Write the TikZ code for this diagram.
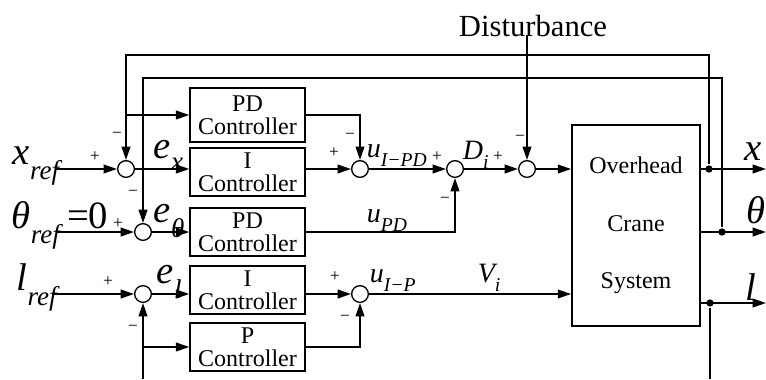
\documentclass[tikz,border=0pt]{standalone}
\usepackage{fontspec}
\setmainfont{Liberation Serif}
\usetikzlibrary{arrows.meta,positioning,calc}
\newcommand{\sbs}[1]{\raisebox{-0.45ex}{\textsubscript{#1}}}

\begin{document}
\begin{tikzpicture}[x=0.75pt,y=-0.75pt,line width=1.3pt,
	>={Triangle[length=10pt,width=6.5pt]},
	ctrl/.style={draw,minimum width=86pt,minimum height=36pt,inner sep=0pt,align=center,font=\fontsize{18}{17}\selectfont},
	sumj/.style={circle,draw,line width=1pt,fill=white,minimum size=12.5pt,inner sep=0pt},
	sig/.style={font=\fontsize{13}{13}\selectfont,inner sep=0pt},
	lab/.style={font=\fontsize{29}{29}\selectfont\itshape,inner sep=0pt,anchor=base west},
	sml/.style={font=\fontsize{21}{21}\selectfont\itshape,inner sep=0pt,anchor=base west},
	dot/.style={circle,fill,inner sep=0pt,minimum size=5.5pt}]
	\useasboundingbox (0,0) rectangle (766,379);

	% controllers and plant
	\node[ctrl,minimum height=40pt] (pdx) at (247.5,115) {PD\\Controller};
	\node[ctrl] (ix) at (247.5,172) {I\\Controller};
	\node[ctrl] (pdt) at (247.5,232) {PD\\Controller};
	\node[ctrl] (il) at (247.5,290) {I\\Controller};
	\node[ctrl] (pl) at (247.5,347) {P\\Controller};
	\node[draw,minimum width=96pt,minimum height=151pt,align=center,
		font=\fontsize{18}{43}\selectfont] (plant) at (636,225.5) {Overhead\\Crane\\System};

	% summing junctions
	\node[sumj] (s1) at (126,169) {};
	\node[sumj] (s2) at (143,232) {};
	\node[sumj] (s3) at (143,294) {};
	\node[sumj] (s4) at (360,169) {};
	\node[sumj] (s5) at (455,169) {};
	\node[sumj] (s6) at (527,169) {};
	\node[sumj] (s7) at (360,294) {};

	% branch points
	\node[dot] (xd) at (709,169) {};
	\node[dot] (thd) at (722,232) {};
	\node[dot] (ld) at (710,303) {};
	\coordinate (xe) at (766,169);
	\coordinate (the) at (766,232);
	\coordinate (le) at (766,303);
	\coordinate (fbx) at (709,55);
	\coordinate (fbt) at (722,78);
	\coordinate (brx) at (126,115);
	\coordinate (brl) at (143,347);
	\coordinate (lb) at (710,379);
	\coordinate (lb2) at (143,379);
	\coordinate (xin) at (56,169);
	\coordinate (tin) at (56,232);
	\coordinate (lin) at (52,294);

	% inputs
	\node[lab] (xr) at (12,164) {x\sbs{ref}};
	\node[lab] (tr) at (11,228) {θ\sbs{ref}\,\upshape=0};
	\node[lab] (lr) at (16,290) {l\sbs{ref}};
	\node[font=\fontsize{23}{23}\selectfont,inner sep=0pt,anchor=base] (dist) at (533,36) {Disturbance};

	% signals
	\node[lab] (ex) at (153,158) {e\sbs{x}};
	\node[lab] (et) at (153,222) {e\sbs{θ}};
	\node[lab] (el) at (156,283) {e\sbs{l}};
	\node[sml] (uipd) at (366,157) {u\sbs{I−PD}};
	\node[sml] (di) at (462,159) {D\sbs{i}};
	\node[sml] (upd) at (366,222) {u\sbs{PD}};
	\node[sml] (uip) at (369,282) {u\sbs{I−P}};
	\node[sml] (vi) at (477,282) {V\sbs{i}};
	\node[lab] (xo) at (744,160) {x};
	\node[lab] (tho) at (746,223) {θ};
	\node[lab] (lo) at (745,300) {l};

	% signs
	\node[sig] at (95,157) {+};
	\node[sig] at (118,224) {+};
	\node[sig] at (108,282) {+};
	\node[sig] at (334,153) {+};
	\node[sig] at (437,157) {+};
	\node[sig] at (498,157) {+};
	\node[sig] at (335,277) {+};
	\node[sig] at (117,135) {−};
	\node[sig] at (133,193) {−};
	\node[sig] at (133,328) {−};
	\node[sig] at (350,136) {−};
	\node[sig] at (445,200) {−};
	\node[sig] at (520,138) {−};
	\node[sig] at (345,318) {−};

	% connectors
	\draw[->] (xin) -- (s1);
	\draw[->] (tin) -- (s2);
	\draw[->] (lin) -- (s3);
	\draw[->] (s1) -- (ix.west |- s1);
	\draw[->] (s2) -- (pdt.west);
	\draw[->] (s3) -- (il.west |- s3);
	\draw[->] (pdx.east) -| (s4.north);
	\draw[->] (ix.east |- s4) -- (s4);
	\draw[->] (s4) -- (s5);
	\draw[->] (s5) -- (s6);
	\draw[->] (s6) -- (plant.west |- s6);
	\draw[->] (pdt.east) -| (s5.south);
	\draw[->] (il.east |- s7) -- (s7);
	\draw[->] (pl.east) -| (s7.south);
	\draw[->] (s7) -- (plant.west |- s7);
	\draw[->] (dist.base -| s6) -- (s6);

	% outputs and feedback
	\draw[->] (plant.east |- xd) -- (xe);
	\draw[->] (plant.east |- thd) -- (the);
	\draw[->] (plant.east |- ld) -- (le);
	\draw[->] (xd) -- (fbx) -| (s1.north);
	\draw[->] (brx) -- (pdx.west);
	\draw[->] (thd) -- (fbt) -| (s2.north);
	\draw (ld) -- (lb);
	\draw[->] (lb2) -- (s3.south);
	\draw[->] (brl) -- (pl.west);
\end{tikzpicture}
\end{document}
